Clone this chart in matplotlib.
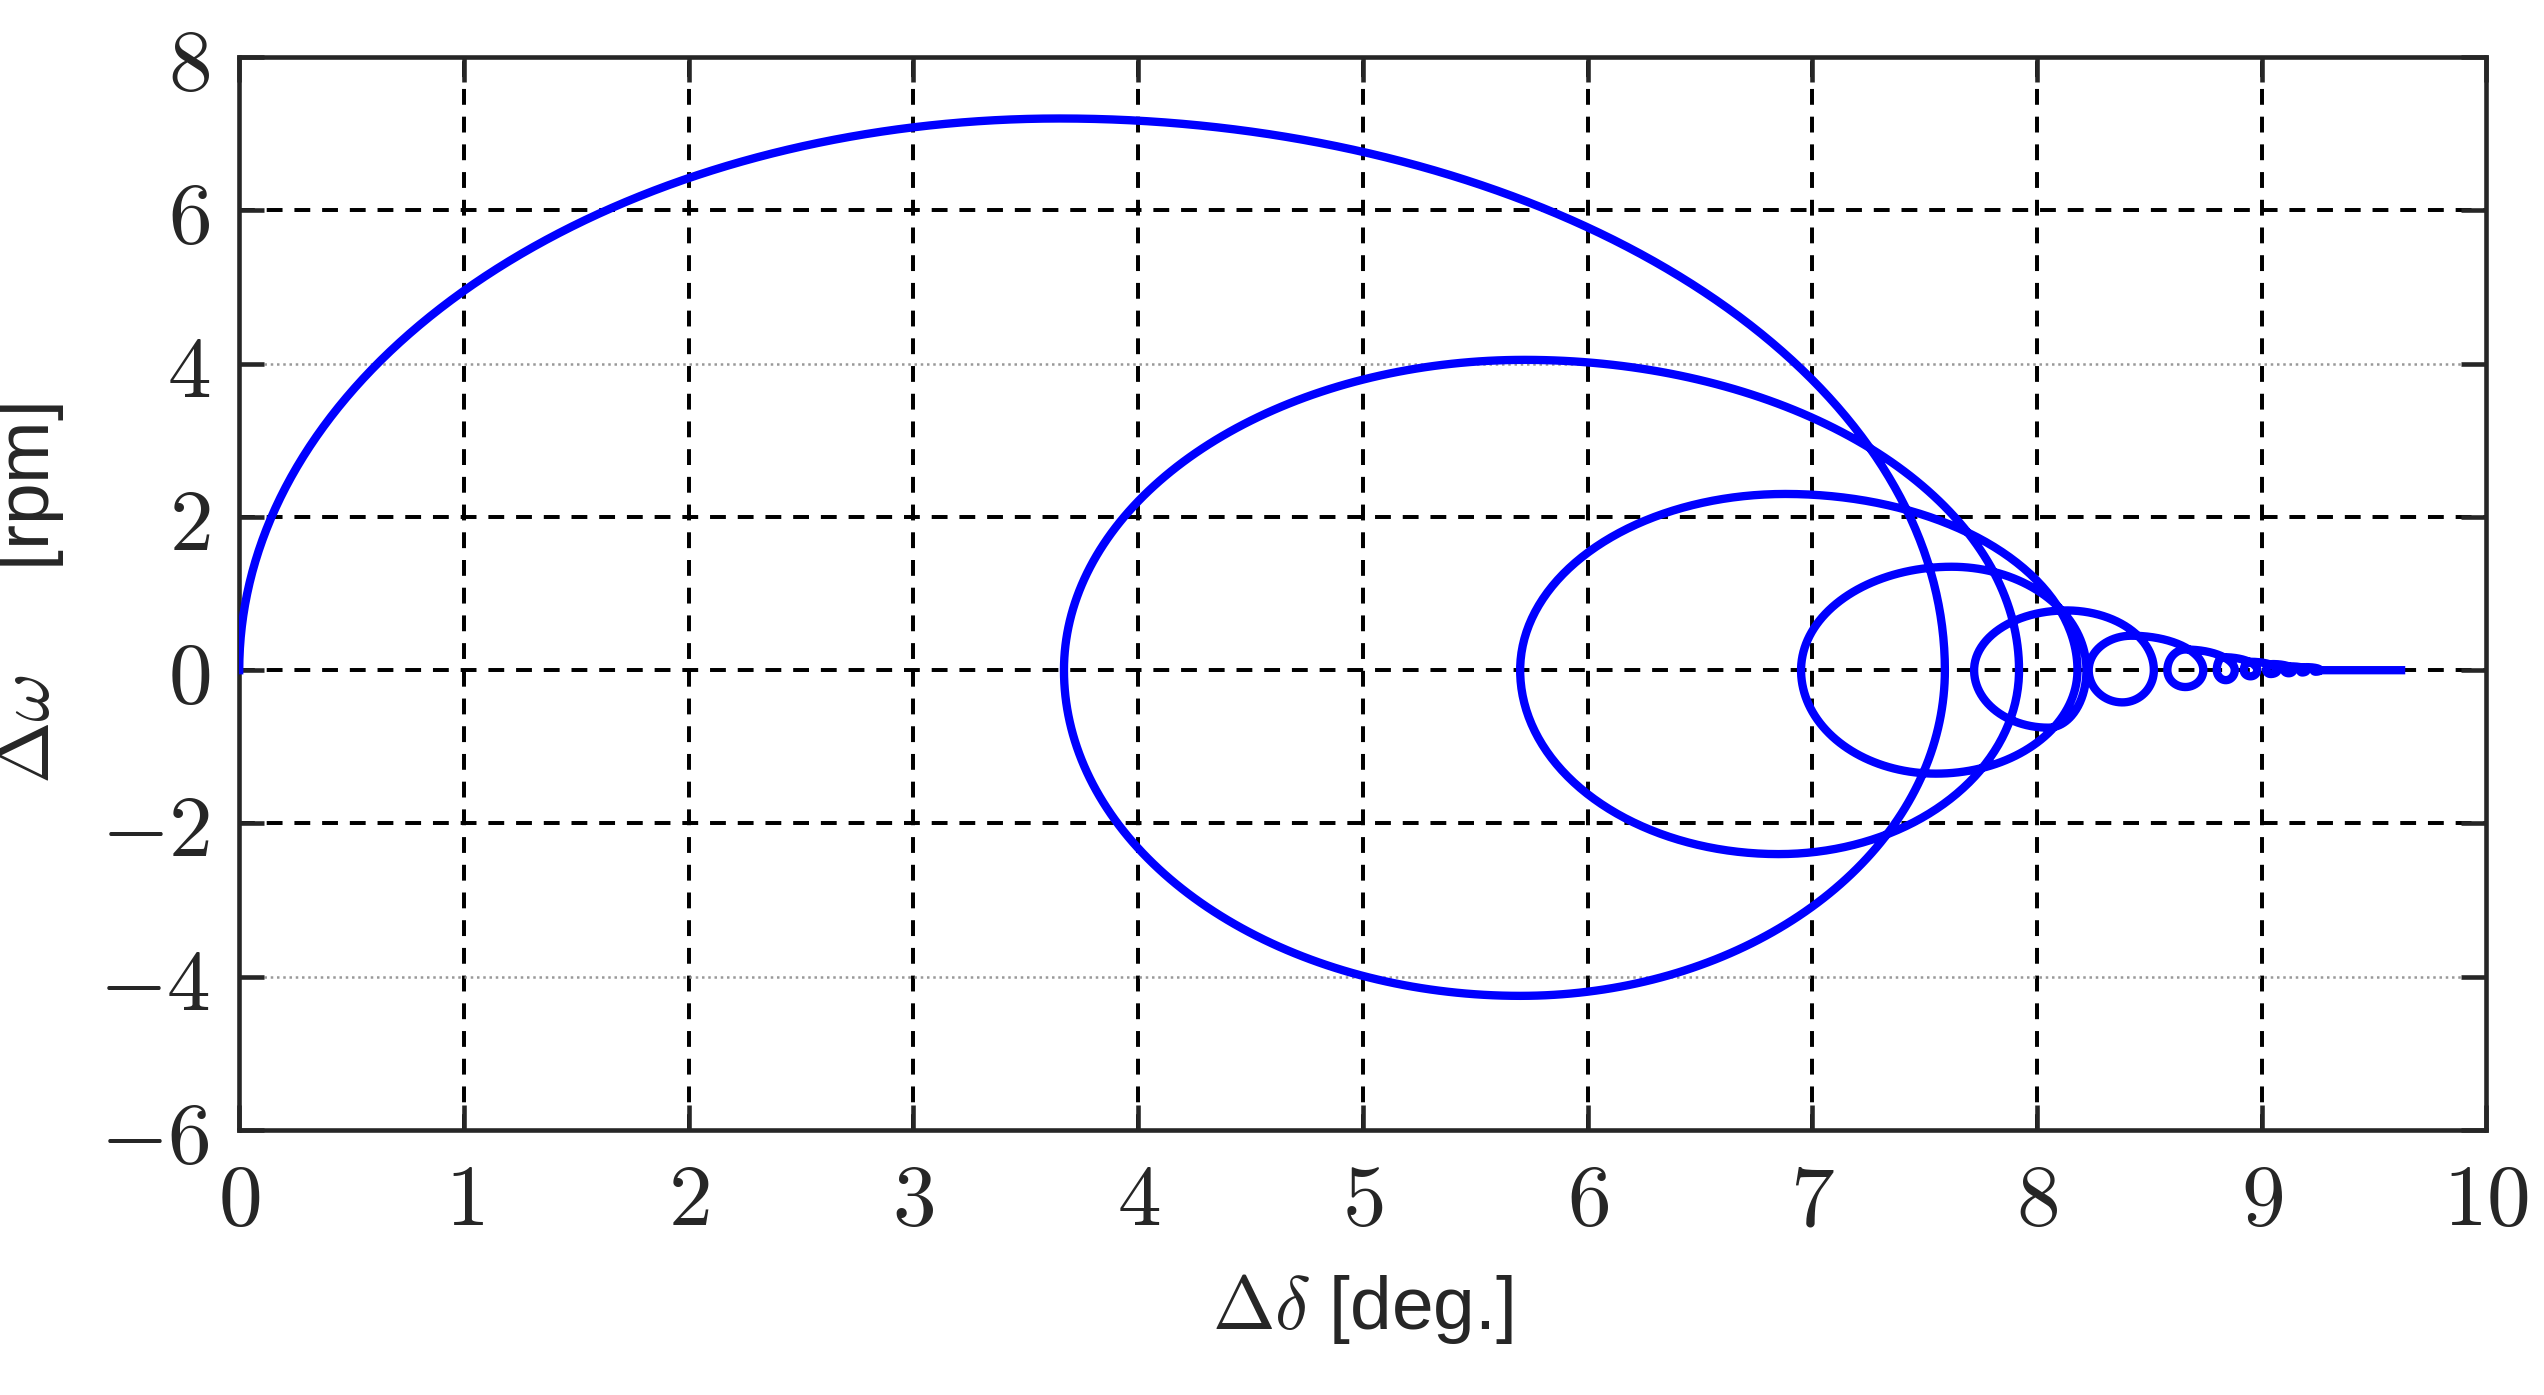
import numpy as np
import matplotlib
matplotlib.use("Agg")
import matplotlib.pyplot as plt

plt.rcParams['mathtext.fontset'] = 'cm'

# zero crossings (omega = 0) of the trajectory
left_x = [3.67, 5.70, 6.95, 7.72, 8.23, 8.58, 8.80, 8.92, 9.02, 9.10, 9.17, 9.23]
right_x = [7.59, 7.92, 8.18, 8.22, 8.52, 8.74, 8.88, 8.98, 9.07, 9.14, 9.20, 9.26]
# upper peaks (delta, omega)
max_x = [3.65, 5.72, 6.88, 7.62, 8.13, 8.42, 8.66, 8.83, 8.95, 9.05, 9.13, 9.20]
max_y = [7.20, 4.05, 2.30, 1.35, 0.78, 0.45, 0.27, 0.17, 0.11, 0.08, 0.05, 0.04]
# lower peaks
min_x = [5.70, 6.85, 7.55, 8.05, 8.38, 8.66, 8.84, 8.95, 9.04, 9.12, 9.18, 9.24]
min_y = [-4.25, -2.40, -1.35, -0.75, -0.42, -0.22, -0.13, -0.08, -0.05, -0.04, -0.03, -0.02]
start_x = 0.0
end_x = 9.62

xticks = [0, 1, 2, 3, 4, 5, 6, 7, 8, 9, 10]
yticks = [-6, -4, -2, 0, 2, 4, 6, 8]


def quarter(x0, xp, yp, to_peak):
    # quarter ellipse between a zero crossing (x0, 0) and a peak (xp, yp)
    t = np.linspace(0, np.pi / 2, 80)
    x = xp + (x0 - xp) * np.cos(t)
    y = yp * np.sin(t)
    if not to_peak:
        x, y = x[::-1], y[::-1]
    return x, y


xs, ys = [], []
cur = start_x
for i in range(len(max_x)):
    for seg in (quarter(cur, max_x[i], max_y[i], True),
                quarter(right_x[i], max_x[i], max_y[i], False),
                quarter(right_x[i], min_x[i], min_y[i], True),
                quarter(left_x[i], min_x[i], min_y[i], False)):
        xs.append(seg[0]); ys.append(seg[1])
    cur = left_x[i]
xs.append([cur, end_x]); ys.append([0, 0])
xs = np.concatenate(xs); ys = np.concatenate(ys)

fig = plt.figure(figsize=(2545 / 150, 1395 / 150), dpi=150)
ax = fig.add_axes([0.094, 0.19, 0.883, 0.769])
ax.plot(xs, ys, color='#0000ff', lw=4.0, zorder=3)

ax.set_xlim(0, 10)
ax.set_ylim(-6, 8)
ax.set_xticks(xticks)
ax.set_yticks(yticks)
ax.set_xticklabels([f'${v}$' for v in xticks], fontsize=42)
ax.set_yticklabels([f'${v}$' if v >= 0 else f'$-{-v}$' for v in yticks], fontsize=42)

for v in xticks[1:-1]:
    ax.axvline(v, color='black', lw=1.9, ls=(0, (4, 3)), zorder=1)
for v in yticks[1:-1]:
    if abs(v) == 4:
        ax.axhline(v, color='#999999', lw=1.2, ls=(0, (1, 1.5)), zorder=1)
    else:
        ax.axhline(v, color='black', lw=1.9, ls=(0, (4, 3)), zorder=1)

for s in ax.spines.values():
    s.set_color('#262626')
    s.set_linewidth(2.2)
ax.tick_params(direction='in', length=12, width=2.2, color='#262626',
               top=True, right=True, pad=14, labelcolor='#262626')

ax.set_xlabel(r'$\Delta\delta$ [deg.]', fontsize=36, family='Liberation Sans',
              color='#262626', labelpad=14)
ax.set_ylabel(r'$\Delta\omega$     [rpm]', fontsize=36, family='Liberation Sans',
              color='#262626', labelpad=16)

fig.savefig('out.png', dpi=150)
